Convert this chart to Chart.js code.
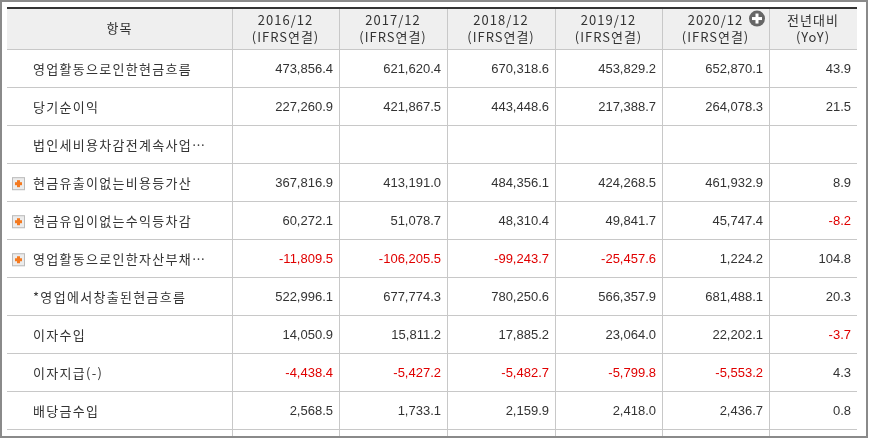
<!DOCTYPE html>
<html>
<head>
<meta charset="utf-8">
<script src="https://cdn.jsdelivr.net/npm/chart.js@4"></script>
<style>
  body { margin:0; background:#fff; }
  #wrap { width:869px; height:439px; }
</style>
</head>
<body>
<div id="wrap"><canvas id="tbl" width="869" height="439"></canvas></div>
<script>
// row labels and whether they carry the "+" toggle icon
const items = [
  "영업활동으로인한현금흐름", "당기순이익", "법인세비용차감전계속사업…",
  "현금유출이없는비용등가산", "현금유입이없는수익등차감", "영업활동으로인한자산부채…",
  "*영업에서창출된현금흐름", "이자수입", "이자지급(-)", "배당금수입"
];
const expandable = [false, false, false, true, true, true, false, false, false, false];

const periods = ["2016/12", "2017/12", "2018/12", "2019/12", "2020/12"];

const v2016 = [473856.4, 227260.9, null, 367816.9, 60272.1, -11809.5, 522996.1, 14050.9, -4438.4, 2568.5];
const v2017 = [621620.4, 421867.5, null, 413191.0, 51078.7, -106205.5, 677774.3, 15811.2, -5427.2, 1733.1];
const v2018 = [670318.6, 443448.6, null, 484356.1, 48310.4, -99243.7, 780250.6, 17885.2, -5482.7, 2159.9];
const v2019 = [453829.2, 217388.7, null, 424268.5, 49841.7, -25457.6, 566357.9, 23064.0, -5799.8, 2418.0];
const v2020 = [652870.1, 264078.3, null, 461932.9, 45747.4, 1224.2, 681488.1, 22202.1, -5553.2, 2436.7];
const yoy   = [43.9, 21.5, null, 8.9, -8.2, 104.8, 20.3, -3.7, 4.3, 0.8];

const columns = [v2016, v2017, v2018, v2019, v2020, yoy];

// column edges in table units (first column is wider)
const colEdges = [0, 225, 332, 440, 548, 655, 762, 850];

function fmt(v){
   return v.toLocaleString("en-US", {minimumFractionDigits:1, maximumFractionDigits:1});
}

// invisible anchor points at each cell centre
let points = [];
items.forEach(function(_, r){
   for(let c = 0; c < 7; c++){
      points.push({ x:(colEdges[c] + colEdges[c+1]) / 2, y:r + 0.5 });
   }
});

const tablePlugin = {
   id: "tablePlugin",
   beforeDraw: function(chart){
      const ctx = chart.ctx;
      const xs = chart.scales.x, ys = chart.scales.y;
      const left = xs.getPixelForValue(0), right = xs.getPixelForValue(850);
      const top = ys.getPixelForValue(-1.08), hb = ys.getPixelForValue(0);
      const bottom = chart.chartArea.bottom;
      ctx.save();
      // header background
      ctx.fillStyle = "#efefef";
      ctx.fillRect(left, top, right - left, hb - top);
      // row lines
      ctx.strokeStyle = "#c8c8c8";
      ctx.lineWidth = 1;
      for(let r = 0; r <= items.length; r++){
         let y = Math.round(ys.getPixelForValue(r)) + 0.5;
         ctx.beginPath(); ctx.moveTo(left, y); ctx.lineTo(right, y); ctx.stroke();
      }
      // column lines
      for(let c = 1; c < colEdges.length - 1; c++){
         let x = Math.round(xs.getPixelForValue(colEdges[c])) + 0.5;
         ctx.beginPath(); ctx.moveTo(x, top); ctx.lineTo(x, bottom); ctx.stroke();
      }
      // header top line
      ctx.fillStyle = "#333";
      ctx.fillRect(left, top - 1, right - left, 2);
      // outer frame
      ctx.strokeStyle = "#8a8a8a";
      ctx.lineWidth = 2;
      ctx.strokeRect(1, 1, 866, 436);
      ctx.restore();
   },
   afterDatasetsDraw: function(chart){
      const ctx = chart.ctx;
      const xs = chart.scales.x, ys = chart.scales.y;
      const hTop = ys.getPixelForValue(-1.08), hb = ys.getPixelForValue(0);
      const hMid = (hTop + hb) / 2;
      ctx.save();
      ctx.textBaseline = "middle";
      ctx.fillStyle = "#333";
      ctx.font = "13px 'Noto Sans CJK KR'";
      ctx.letterSpacing = "1px";
      ctx.textAlign = "center";

      // header
      ctx.fillText("항목", xs.getPixelForValue((colEdges[0] + colEdges[1]) / 2), hMid);
      periods.forEach(function(p, i){
         let cx = xs.getPixelForValue((colEdges[i+1] + colEdges[i+2]) / 2);
         ctx.fillText(p, cx, hMid - 8);
         ctx.fillText("(IFRS연결)", cx, hMid + 9);
      });
      let yx = xs.getPixelForValue((colEdges[6] + colEdges[7]) / 2);
      ctx.fillText("전년대비", yx, hMid - 8);
      ctx.fillText("(YoY)", yx, hMid + 9);

      // plus badge next to latest period
      let bx = xs.getPixelForValue(colEdges[6]) - 12, by = hMid - 10;
      ctx.fillStyle = "#666";
      ctx.beginPath(); ctx.arc(bx, by, 8, 0, Math.PI * 2); ctx.fill();
      ctx.fillStyle = "#fff";
      ctx.fillRect(bx - 5, by - 1.5, 10, 3);
      ctx.fillRect(bx - 1.5, by - 5, 3, 10);

      // body
      items.forEach(function(label, r){
         let cy = ys.getPixelForValue(r + 0.5) + 1;
         ctx.textAlign = "left";
         ctx.letterSpacing = "1.3px";
         ctx.font = "13px 'Noto Sans CJK KR'";
         ctx.fillStyle = "#333";
         ctx.fillText(label, xs.getPixelForValue(colEdges[0]) + 26, cy);
         if(expandable[r]){
            let ix = xs.getPixelForValue(colEdges[0]) + 5, iy = cy - 6;
            ctx.fillStyle = "#ececec";
            ctx.strokeStyle = "#bbb";
            ctx.lineWidth = 1;
            ctx.fillRect(ix, iy, 13, 13);
            ctx.strokeRect(ix + 0.5, iy + 0.5, 12, 12);
            ctx.fillStyle = "#f47a20";
            ctx.fillRect(ix + 3, iy + 5, 7, 3);
            ctx.fillRect(ix + 5, iy + 3, 3, 7);
         }
         ctx.textAlign = "right";
         ctx.letterSpacing = "0px";
         ctx.font = "13px 'Liberation Sans'";
         columns.forEach(function(col, c){
            let v = col[r];
            if(v === null) return;
            ctx.fillStyle = v < 0 ? "#e00000" : "#333";
            ctx.fillText(fmt(v), xs.getPixelForValue(colEdges[c+2]) - 6, cy);
         });
      });
      ctx.restore();
   }
};

new Chart(document.getElementById("tbl"), {
   type: "scatter",
   data: { datasets: [{ data: points, pointRadius: 0, pointHoverRadius: 0 }] },
   options: {
      responsive: false,
      animation: false,
      events: [],
      layout: { padding: { left: 7, right: 12, top: 8, bottom: 2 } },
      plugins: { legend: { display: false }, tooltip: { enabled: false } },
      scales: {
         x: { type: "linear", display: false, min: 0, max: 850 },
         y: { type: "linear", display: false, reverse: true, min: -1.08, max: 10.2 }
      }
   },
   plugins: [tablePlugin]
});
</script>
</body>
</html>
